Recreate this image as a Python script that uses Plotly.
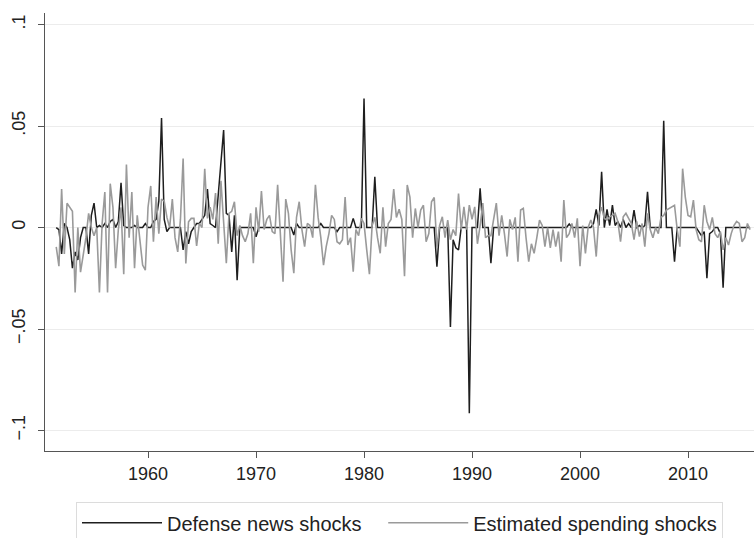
import numpy as np
import plotly.graph_objects as go

start_year = 1951.5  # 1951Q3, quarterly data
defense_news = [
    0, -0.001, -0.013, 0.002, 0, -0.006, -0.02, -0.012, -0.016, -0.005,
    0, 0, -0.013, 0.006, 0.012, 0, 0.001, 0, 0.002, 0,
    0.003, 0.004, 0, 0.003, 0.022, 0.001, 0, 0, 0, 0.001,
    0, 0, 0, 0.002, 0, 0, 0.003, 0.004, 0.013, 0.054,
    0.004, -0.002, 0, 0, 0, 0, 0, -0.011, -0.002, -0.008,
    -0.002, 0, 0.002, 0.002, 0.004, 0.006, 0.019, 0.002, 0.001, 0,
    0.016, 0.032, 0.048, 0.007, 0.006, -0.012, 0.006, -0.026, 0, 0,
    0, 0, 0, 0, -0.0045, 0, 0, 0, 0, 0,
    0, 0, 0, 0, 0, 0, 0, 0, -0.0037, 0.002,
    0, 0, 0, 0, 0, 0, 0, 0, 0.002, 0,
    0, 0, 0, 0, -0.002, 0, 0, 0, 0, 0,
    0.0045, 0, 0, 0, 0.0636, 0, 0, 0, 0.025, 0,
    0, 0, 0, 0, 0, 0, 0, 0, 0, 0,
    0, 0, 0, 0, 0, 0, 0, 0, 0, 0,
    0, -0.0193, 0, 0, 0, 0, -0.049, -0.006, -0.010, -0.011,
    0, 0, 0, -0.0915, 0, 0, 0, 0.0193, 0, 0,
    0, -0.0176, 0, 0, 0, 0, 0, 0, 0, 0,
    0, 0, 0, 0, 0, 0, 0, 0, 0, 0,
    0, 0, 0, 0, 0, 0, 0, 0, 0, 0,
    0.0017, 0, 0, 0, 0, 0, 0, 0, 0, 0.002,
    0.009, 0.001, 0.0275, 0, 0.009, 0.001, 0.011, 0.001, 0.003, 0,
    0.004, 0, 0.002, 0, 0.0086, 0, 0.001, 0, 0.001, 0.0176,
    0, 0, 0, 0, 0, 0.0526, 0, 0, 0, -0.0168,
    0, 0, 0, 0, 0, 0, 0, 0, -0.002, -0.004,
    -0.002, -0.025, -0.003, -0.002, 0, 0, -0.003, -0.0297, 0, 0,
    0, 0, 0, 0, 0, 0, 0, 0,
]
spending_shocks = [
    -0.0095, -0.019, 0.019, -0.013, 0.012, 0.010, 0.008, -0.032, 0.0, -0.022,
    -0.013, -0.005, 0.007, 0.0, -0.004, 0.0, -0.032, 0.002, 0.0175, -0.032,
    0.0216, 0.010, -0.02, -0.001, 0.010, -0.023, 0.031, -0.005, 0.0175, -0.02,
    0.006, -0.005, -0.0185, -0.021, 0.010, 0.0205, -0.007, 0.015, -0.003, 0.014,
    0.013, 0.005, 0.0, 0.014, -0.005, -0.012, 0.004, 0.034, -0.0177, 0.0028,
    0.0045, 0.0045, -0.009, 0.002, 0.0, 0.029, 0.0045, 0.010, 0.004, 0.017,
    -0.008, 0.023, 0.005, -0.0176, 0.007, 0.008, 0.0127, -0.004, 0.001, -0.004,
    -0.007, -0.003, 0.007, -0.0176, 0.010, -0.002, 0.018, -0.001, 0.004, 0.006,
    -0.002, -0.003, 0.021, 0.0, -0.0267, 0.014, 0.007, -0.011, -0.0225, 0.005,
    0.0127, -0.001, -0.0094, 0.002, 0.001, -0.005, 0.021, 0.005, -0.005, -0.0185,
    -0.0094, -0.003, 0.006, 0.004, -0.007, -0.008, -0.006, 0.015, -0.0086, -0.005,
    -0.0217, -0.001, -0.004, 0.0045, 0.002, -0.011, -0.023, 0.001, 0.005, -0.005,
    -0.0127, 0.010, -0.0094, 0.002, 0.004, 0.019, 0.005, 0.009, 0.004, -0.024,
    0.021, 0.015, -0.005, 0.0094, 0.0, 0.0086, 0.011, -0.007, -0.003, 0.0127,
    0.0148, -0.010, 0.001, 0.0053, -0.005, 0.0037, -0.006, -0.001, -0.004, 0.0168,
    -0.001, 0.0102, -0.001, 0.011, 0.004, 0.0102, -0.008, 0.001, 0.012, -0.005,
    -0.004, -0.004, 0.004, 0.012, -0.004, 0.006, -0.003, -0.0143, 0.004, -0.001,
    0.005, -0.0168, 0.0086, 0.0094, -0.005, -0.0168, -0.008, -0.0127, -0.005, 0.0037,
    0.001, -0.0094, 0.0, -0.010, -0.001, -0.0094, -0.002, -0.0168, 0.0135, -0.005,
    -0.003, 0.002, -0.005, 0.0045, -0.019, 0.001, -0.0127, 0.0, 0.0037, 0.0,
    -0.0143, 0.006, 0.010, 0.0045, 0.0037, 0.0053, 0.006, 0.007, 0.003, -0.007,
    0.0053, 0.007, 0.0045, 0.002, -0.006, 0.003, -0.0045, 0.002, -0.0094, 0.007,
    -0.001, -0.005, 0.0, -0.003, 0.005, 0.006, 0.0086, 0.0094, 0.010, 0.011,
    -0.001, -0.0094, 0.029, 0.015, 0.006, 0.0053, 0.0135, -0.001, -0.006, -0.007,
    0.011, 0.003, -0.001, 0.005, -0.003, -0.005, -0.002, -0.011, -0.005, -0.0086,
    -0.003, 0.001, 0.003, 0.002, -0.007, -0.005, 0.002, -0.001,
]
x_ticks = [1960, 1970, 1980, 1990, 2000, 2010]
y_ticks = [-0.1, -0.05, 0, 0.05, 0.1]
y_tick_text = ["\u2212.1", "\u2212.05", "0", ".05", ".1"]
series_names = ["Defense news shocks\u00a0\u00a0\u00a0", "Estimated spending shocks"]

t = start_year + np.arange(len(defense_news)) / 4.0

FONT = "Liberation Sans, Arial, sans-serif"
fig = go.Figure()
fig.add_trace(go.Scatter(x=t, y=defense_news, mode="lines", name=series_names[0],
                         line=dict(color="#1e1e1e", width=1.5)))
fig.add_trace(go.Scatter(x=t, y=spending_shocks, mode="lines", name=series_names[1],
                         line=dict(color="#9a9a9a", width=1.6)))

fig.update_layout(
    width=754, height=538,
    margin=dict(l=45, r=0, t=13, b=87, autoexpand=False),
    paper_bgcolor="white", plot_bgcolor="white",
    font=dict(family=FONT, size=18, color="#222222"),
    showlegend=True,
    legend=dict(orientation="h", x=0.5, xanchor="center", y=-0.117, yanchor="top",
                bordercolor="#dcdcdc", borderwidth=1, font=dict(size=20),
                itemwidth=80, tracegroupgap=0),
)
fig.update_xaxes(range=[1950.46, 2016.11], tickvals=x_ticks, ticks="outside", ticklen=6,
                 tickcolor="#555555", showline=True, linecolor="#555555", linewidth=1,
                 showgrid=False, zeroline=False, tickfont=dict(size=18), automargin=False)
fig.update_yaxes(range=[-0.1101, 0.1057], tickvals=y_ticks, ticktext=y_tick_text,
                 tickangle=-90, ticks="outside", ticklen=6, tickcolor="#555555",
                 showline=True, linecolor="#555555", linewidth=1,
                 showgrid=True, gridcolor="#ececec", gridwidth=1, zeroline=False,
                 tickfont=dict(size=18), ticklabelstandoff=6, automargin=False)

fig.write_html("out.html", config={"displayModeBar": False},
               post_script="document.body.style.margin='0';document.body.style.padding='0';")
